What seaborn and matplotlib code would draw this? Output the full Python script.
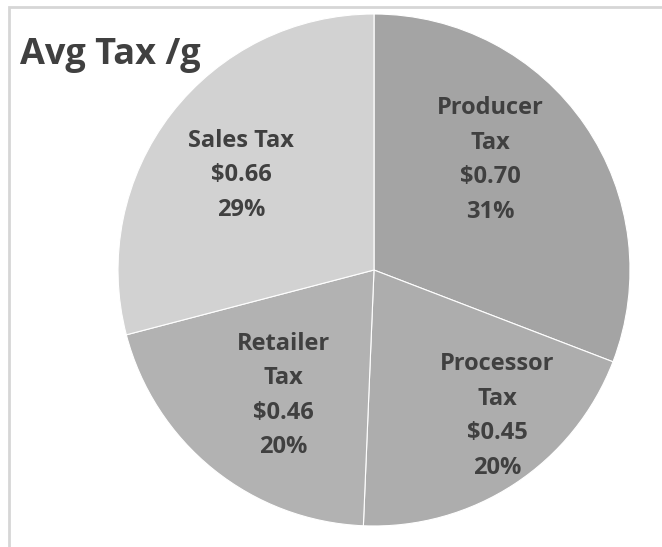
import matplotlib
matplotlib.use("Agg")
import matplotlib.pyplot as plt
import seaborn as sns
import numpy as np
from matplotlib.patches import Rectangle

# Average tax per gram, by tax type (clockwise from 12 o'clock)
categories = ["Producer\nTax", "Processor\nTax", "Retailer\nTax", "Sales Tax"]
tax_per_gram = [0.70, 0.45, 0.46, 0.66]
shares = ["31%", "20%", "20%", "29%"]
slice_colors = ["#a4a4a4", "#adadad", "#b2b2b2", "#d2d2d2"]

# label anchor within each wedge: (x, y) in pie-radius units
label_xy = [(0.453, 0.43), (0.48, -0.57), (-0.355, -0.49), (-0.52, 0.37)]

sns.set_theme(style="white")
plt.rcParams["font.family"] = ["Open Sans", "DejaVu Sans"]

W, H, DPI = 662, 547, 100
fig = plt.figure(figsize=(W / DPI, H / DPI), dpi=DPI)
fig.patch.set_facecolor("white")

# chart-area frame (runs off the right and bottom edges)
fig.patches.append(Rectangle((9 / W, -0.05), 1.2, 1 - 7 / H + 0.05,
                             transform=fig.transFigure, fill=False,
                             edgecolor="#d6d6d6", linewidth=2))

cx, cy, r = 374, 270, 256
ax = fig.add_axes([(cx - r) / W, 1 - (cy + r) / H, 2 * r / W, 2 * r / H])

palette = sns.color_palette(slice_colors)
wedges, _ = ax.pie(tax_per_gram, colors=palette, startangle=90, counterclock=False,
                   radius=1.0, wedgeprops=dict(edgecolor="white", linewidth=0.8))
ax.set_xlim(-1, 1)
ax.set_ylim(-1, 1)
ax.set_aspect("auto")
ax.axis("off")

for name, val, pct, (x, y) in zip(categories, tax_per_gram, shares, label_xy):
    ax.text(x, y, f"{name}\n${val:.2f}\n{pct}", ha="center", va="center",
            fontsize=17, fontweight="bold", color="#404040", linespacing=1.58)

fig.text(20 / W, 1 - 55 / H, "Avg Tax /g", ha="left", va="center",
         fontsize=26, fontweight="bold", color="#404040")

fig.savefig("out.png", dpi=DPI)
